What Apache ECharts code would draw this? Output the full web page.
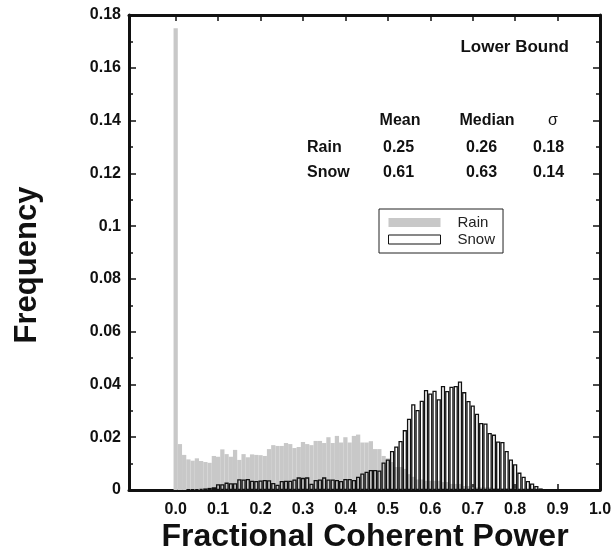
<!DOCTYPE html>
<html><head><meta charset="utf-8">
<script src="https://cdn.jsdelivr.net/npm/echarts@6/dist/echarts.min.js"></script>
<style>html,body{margin:0;padding:0;background:#fff}#c{width:615px;height:554px}</style>
</head><body><div id="c"></div>
<script>
// ---- data (histogram bins of width 0.01, centred at 0.00, 0.01, ...) ----
const binStart = 0.00;
const binWidth = 0.01;
const rainFreq = [0.175, 0.0174, 0.0133, 0.0116, 0.0111, 0.012, 0.011, 0.0106, 0.0103, 0.0129,
  0.0126, 0.0154, 0.0136, 0.0126, 0.0152, 0.0114, 0.0136, 0.0124, 0.0135, 0.0133,
  0.0132, 0.0129, 0.0155, 0.017, 0.0167, 0.0167, 0.0178, 0.0174, 0.0159, 0.0163,
  0.0182, 0.0174, 0.017, 0.0186, 0.0186, 0.0178, 0.020, 0.0178, 0.0205, 0.018,
  0.020, 0.018, 0.0205, 0.021, 0.018, 0.018, 0.0185, 0.0155, 0.0155, 0.0129,
  0.012, 0.0106, 0.0087, 0.0087, 0.008, 0.006, 0.005, 0.004, 0.004, 0.0035,
  0.0035, 0.0035, 0.0035, 0.003, 0.003, 0.0023, 0.0023, 0.0023, 0.0015, 0.0015,
  0.001, 0.001, 0.001, 0.001, 0.001, 0.0006, 0.0006, 0.0006, 0.0006, 0.0005,
  0.0005, 0.0003, 0.0003, 0.0003, 0.0002, 0.0002];
const snowFreq = [0, 0, 0, 0.0002, 0.0003, 0.0003, 0.0004, 0.0006, 0.0008, 0.001,
  0.0022, 0.0022, 0.0028, 0.0026, 0.0026, 0.0041, 0.004, 0.0042, 0.0035, 0.0034,
  0.0036, 0.0038, 0.0037, 0.0027, 0.002, 0.0034, 0.0035, 0.0035, 0.004, 0.0048,
  0.0046, 0.0048, 0.0024, 0.0038, 0.004, 0.0048, 0.004, 0.004, 0.0038, 0.0034,
  0.0042, 0.0042, 0.0038, 0.005, 0.0063, 0.0069, 0.0076, 0.0076, 0.0074, 0.0104,
  0.0116, 0.0148, 0.0165, 0.0186, 0.0227, 0.027, 0.0325, 0.0303, 0.0338, 0.0379,
  0.0366, 0.0376, 0.0344, 0.0394, 0.0375, 0.0391, 0.0394, 0.0411, 0.0371, 0.0337,
  0.032, 0.0289, 0.0254, 0.0252, 0.0216, 0.021, 0.0184, 0.0182, 0.0148, 0.0116,
  0.0098, 0.0066, 0.005, 0.0034, 0.0025, 0.0015, 0.0006, 0.0003, 0.0002];
const xTickValues = [0.0, 0.1, 0.2, 0.3, 0.4, 0.5, 0.6, 0.7, 0.8, 0.9, 1.0];
const xMin = -0.11, xMax = 1.0;
const yMin = 0, yMax = 0.18, yStep = 0.02;
const seriesNames = ['Rain', 'Snow'];
const statHeaders = ['Mean', 'Median', 'σ'];
const statRain = ['0.25', '0.26', '0.18'];
const statSnow = ['0.61', '0.63', '0.14'];

// ---- layout ----
const W = 615, H = 554;
const G = {left: 129, right: 15, top: 15, bottom: 64};
const FONT = '"Liberation Sans", Arial, Helvetica, sans-serif';
const plotW = W - G.left - G.right;
const barPx = plotW / (xMax - xMin) * binWidth;

function toPairs(arr) {
  const out = [];
  arr.forEach((v, i) => { if (v > 0) out.push([+(binStart + i * binWidth).toFixed(2), v]); });
  return out;
}

const axisLineStyle = {color: '#111', width: 3};
const tickStyle = {color: '#111', width: 1.5};

const chart = echarts.init(document.getElementById('c'), null, {renderer: 'canvas'});
chart.setOption({
  animation: false,
  backgroundColor: '#fff',
  grid: {left: G.left, right: G.right, top: G.top, bottom: G.bottom, containLabel: false},
  xAxis: [{
    type: 'value', min: xMin, max: xMax, position: 'bottom',
    axisLine: {show: true, onZero: false, lineStyle: axisLineStyle},
    axisTick: {show: true, inside: true, length: 6, lineStyle: tickStyle, customValues: xTickValues},
    axisLabel: {show: true, customValues: xTickValues, margin: 12, formatter: v => v.toFixed(1),
      fontFamily: FONT, fontWeight: 'bold', fontSize: 16, color: '#111'},
    splitLine: {show: false}
  }, {
    type: 'value', min: xMin, max: xMax, position: 'top',
    axisLine: {show: true, onZero: false, lineStyle: axisLineStyle},
    axisTick: {show: true, inside: true, length: 6, lineStyle: tickStyle, customValues: xTickValues},
    axisLabel: {show: false},
    splitLine: {show: false}
  }],
  yAxis: [{
    type: 'value', min: yMin, max: yMax, interval: yStep, position: 'left',
    axisLine: {show: true, onZero: false, lineStyle: axisLineStyle},
    axisTick: {show: true, inside: true, length: 7, lineStyle: tickStyle},
    minorTick: {show: true, splitNumber: 2, length: 4, lineStyle: tickStyle},
    axisLabel: {margin: 8, fontFamily: FONT, fontWeight: 'bold', fontSize: 16, color: '#111'},
    splitLine: {show: false}, minorSplitLine: {show: false}
  }, {
    type: 'value', min: yMin, max: yMax, interval: yStep, position: 'right',
    axisLine: {show: true, onZero: false, lineStyle: axisLineStyle},
    axisTick: {show: true, inside: true, length: 7, lineStyle: tickStyle},
    minorTick: {show: true, splitNumber: 2, length: 4, lineStyle: tickStyle},
    axisLabel: {show: false},
    splitLine: {show: false}, minorSplitLine: {show: false}
  }],
  legend: {
    orient: 'vertical', left: 379, top: 209,
    padding: [6, 8, 6, 9], itemGap: 2,
    borderColor: '#222', borderWidth: 1,
    itemWidth: 52, itemHeight: 9, selectedMode: false,
    textStyle: {fontFamily: FONT, fontSize: 15, color: '#222', padding: [0, 0, 0, 12]},
    data: [
      {name: seriesNames[0], icon: 'rect', itemStyle: {color: '#c8c8c8', borderWidth: 0}},
      {name: seriesNames[1], icon: 'rect', itemStyle: {color: '#fff', borderColor: '#111', borderWidth: 1}}
    ]
  },
  series: [{
    name: seriesNames[0], type: 'bar', xAxisIndex: 0, yAxisIndex: 0,
    data: toPairs(rainFreq), barWidth: barPx, barGap: '-100%',
    itemStyle: {color: '#c8c8c8'}, z: 2
  }, {
    name: seriesNames[1], type: 'bar', xAxisIndex: 0, yAxisIndex: 0,
    data: toPairs(snowFreq), barWidth: barPx, barGap: '-100%',
    itemStyle: {color: 'rgba(255,255,255,0)', borderColor: '#111', borderWidth: 1.3}, z: 3
  }],
  graphic: [
    {type: 'text', x: 27, y: 265, rotation: Math.PI / 2,
      style: {text: 'Frequency', font: 'bold 31px ' + FONT, fill: '#111', align: 'center', verticalAlign: 'middle'}},
    {type: 'text', x: 365, y: 537,
      style: {text: 'Fractional Coherent Power', font: 'bold 32px ' + FONT, fill: '#111', align: 'center', verticalAlign: 'middle'}},
    {type: 'text', x: 569, y: 47,
      style: {text: 'Lower Bound', font: 'bold 17px ' + FONT, fill: '#111', align: 'right', verticalAlign: 'middle'}},
    {type: 'text', x: 400, y: 121, style: {text: statHeaders[0], font: 'bold 16px ' + FONT, fill: '#111', align: 'center', verticalAlign: 'middle'}},
    {type: 'text', x: 487, y: 121, style: {text: statHeaders[1], font: 'bold 16px ' + FONT, fill: '#111', align: 'center', verticalAlign: 'middle'}},
    {type: 'text', x: 553, y: 121, style: {text: statHeaders[2], font: '16px ' + FONT, fill: '#111', align: 'center', verticalAlign: 'middle'}},
    {type: 'text', x: 307, y: 148, style: {text: seriesNames[0], font: 'bold 16px ' + FONT, fill: '#111', align: 'left', verticalAlign: 'middle'}},
    {type: 'text', x: 383, y: 148, style: {text: statRain[0], font: 'bold 16px ' + FONT, fill: '#111', align: 'left', verticalAlign: 'middle'}},
    {type: 'text', x: 466, y: 148, style: {text: statRain[1], font: 'bold 16px ' + FONT, fill: '#111', align: 'left', verticalAlign: 'middle'}},
    {type: 'text', x: 533, y: 148, style: {text: statRain[2], font: 'bold 16px ' + FONT, fill: '#111', align: 'left', verticalAlign: 'middle'}},
    {type: 'text', x: 307, y: 173, style: {text: seriesNames[1], font: 'bold 16px ' + FONT, fill: '#111', align: 'left', verticalAlign: 'middle'}},
    {type: 'text', x: 383, y: 173, style: {text: statSnow[0], font: 'bold 16px ' + FONT, fill: '#111', align: 'left', verticalAlign: 'middle'}},
    {type: 'text', x: 466, y: 173, style: {text: statSnow[1], font: 'bold 16px ' + FONT, fill: '#111', align: 'left', verticalAlign: 'middle'}},
    {type: 'text', x: 533, y: 173, style: {text: statSnow[2], font: 'bold 16px ' + FONT, fill: '#111', align: 'left', verticalAlign: 'middle'}}
  ]
});
</script></body></html>
